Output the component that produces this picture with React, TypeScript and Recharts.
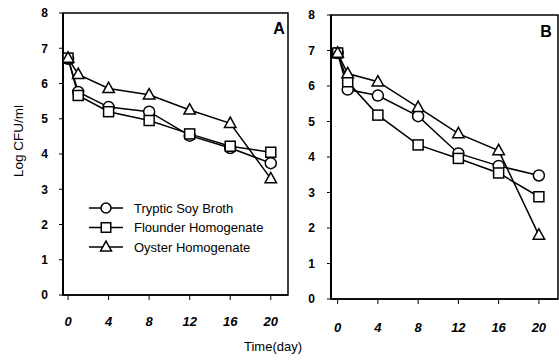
import React from 'react';
import { LineChart, Line, XAxis, YAxis, ReferenceArea, Legend } from 'recharts';

const days = [0, 1, 4, 8, 12, 16, 20];
const xTicks = [0, 4, 8, 12, 16, 20];
const yTicks = [0, 1, 2, 3, 4, 5, 6, 7, 8];
const seriesNames = ['Tryptic Soy Broth', 'Flounder Homogenate', 'Oyster Homogenate'];

const tsbA = [6.7, 5.76, 5.33, 5.2, 4.52, 4.17, 3.74];
const flounderA = [6.72, 5.66, 5.2, 4.95, 4.57, 4.22, 4.05];
const oysterA = [6.72, 6.26, 5.86, 5.68, 5.25, 4.87, 3.3];

const tsbB = [6.93, 5.9, 5.73, 5.15, 4.1, 3.75, 3.48];
const flounderB = [6.93, 6.12, 5.18, 4.34, 3.96, 3.55, 2.88];
const oysterB = [6.93, 6.35, 6.12, 5.4, 4.66, 4.18, 1.8];

const dataA = days.map((d, i) => ({ day: d, tsb: tsbA[i], flounder: flounderA[i], oyster: oysterA[i] }));
const dataB = days.map((d, i) => ({ day: d, tsb: tsbB[i], flounder: flounderB[i], oyster: oysterB[i] }));

const FONT = '"Liberation Sans", Arial, sans-serif';
const SW = 1.5;

function circleMark(cx: number, cy: number, r: number, key?: any) {
  return <circle key={key} cx={cx} cy={cy} r={r} fill="#fff" stroke="#000" strokeWidth={SW} />;
}
function squareMark(cx: number, cy: number, s: number, key?: any) {
  return <rect key={key} x={cx - s / 2} y={cy - s / 2} width={s} height={s} fill="#fff" stroke="#000" strokeWidth={SW} />;
}
function triMark(cx: number, cy: number, s: number, key?: any) {
  const h = s * 0.9;
  const pts = `${cx},${cy - h * 0.6} ${cx - s / 2},${cy + h * 0.4} ${cx + s / 2},${cy + h * 0.4}`;
  return <polygon key={key} points={pts} fill="#fff" stroke="#000" strokeWidth={SW} />;
}

const CircleDot = (p: any) => (p.cx == null ? null : circleMark(p.cx, p.cy, 5.5, p.index));
const SquareDot = (p: any) => (p.cx == null ? null : squareMark(p.cx, p.cy, 10, p.index));
const TriDot = (p: any) => (p.cx == null ? null : triMark(p.cx, p.cy, 11.5, p.index));

const markFns = [
  (x: number, y: number) => circleMark(x, y, 5),
  (x: number, y: number) => squareMark(x, y, 9.5),
  (x: number, y: number) => triMark(x, y, 11),
];

const renderLegend = () => (
  <svg width={190} height={60} style={{ display: 'block' }}>
    {seriesNames.map((n, i) => {
      const y = 10 + i * 19.5;
      return (
        <g key={n}>
          <line x1={3} x2={37} y1={y} y2={y} stroke="#000" strokeWidth={SW} />
          {markFns[i](20, y)}
          <text x={48} y={y} dominantBaseline="central" fontFamily={FONT} fontSize={13} fill="#000">
            {n}
          </text>
        </g>
      );
    })}
  </svg>
);

const axisStyle = { stroke: '#000', strokeWidth: 1.5 };
const yTickStyle = { fill: '#000', fontSize: 12, fontWeight: 'bold', fontFamily: FONT };
const xTickStyle = { fill: '#000', fontSize: 13, fontWeight: 'bold', fontStyle: 'italic', fontFamily: FONT };

export default function App() {
  const domA: [number, number] = [-0.5, 21.7];
  const domB: [number, number] = [-0.66, 21.9];
  return (
    <div style={{ position: 'absolute', left: 0, top: 0, width: 559, height: 361, background: '#fff' }}>
      <div style={{ position: 'absolute', left: 0, top: 0 }}>
        <LineChart width={310} height={361} data={dataA} margin={{ top: 13, right: 22, left: 3, bottom: 0 }}>
          <XAxis
            dataKey="day"
            type="number"
            domain={domA}
            ticks={xTicks}
            allowDataOverflow
            height={66}
            tickSize={5}
            tickMargin={17}
            tick={xTickStyle}
            axisLine={axisStyle}
            tickLine={{ stroke: '#000' }}
            label={{
              content: () => (
                <g>
                  <text x={273} y={351} textAnchor="middle" fontFamily={FONT} fontSize={13} fill="#000">
                    Time(day)
                  </text>
                  <text x={279} y={34} textAnchor="middle" fontFamily={FONT} fontSize={16} fontWeight="bold" fill="#000">
                    A
                  </text>
                </g>
              ),
            }}
          />
          <YAxis
            type="number"
            domain={[0, 8]}
            ticks={yTicks}
            width={60}
            tickSize={4}
            tickMargin={11}
            tick={yTickStyle}
            axisLine={{ stroke: '#000', strokeWidth: 2 }}
            tickLine={{ stroke: '#000' }}
            label={{
              content: () => (
                <text x={18} y={141} transform="rotate(-90 18 141)" textAnchor="middle" dominantBaseline="central" fontFamily={FONT} fontSize={13.5} fill="#000">
                  Log CFU/ml
                </text>
              ),
            }}
          />
          <ReferenceArea x1={domA[0]} x2={domA[1]} y1={0} y2={8} fill="none" fillOpacity={0} stroke="#000" strokeWidth={1.5} />
          <Legend
            layout="vertical"
            align="center"
            verticalAlign="middle"
            wrapperStyle={{ position: 'absolute', left: 86, top: 198, width: 190, height: 60 }}
            content={renderLegend}
          />
          <Line dataKey="tsb" name={seriesNames[0]} stroke="#000" strokeWidth={SW} dot={CircleDot} isAnimationActive={false} />
          <Line dataKey="flounder" name={seriesNames[1]} stroke="#000" strokeWidth={SW} dot={SquareDot} isAnimationActive={false} />
          <Line dataKey="oyster" name={seriesNames[2]} stroke="#000" strokeWidth={SW} dot={TriDot} isAnimationActive={false} />
        </LineChart>
      </div>
      <div style={{ position: 'absolute', left: 300, top: 0 }}>
        <LineChart width={259} height={361} data={dataB} margin={{ top: 15, right: 1, left: 0, bottom: 0 }}>
          <XAxis
            dataKey="day"
            type="number"
            domain={domB}
            ticks={xTicks}
            allowDataOverflow
            height={62}
            tickSize={5}
            tickMargin={19}
            tick={xTickStyle}
            axisLine={axisStyle}
            tickLine={{ stroke: '#000' }}
            label={{
              content: () => (
                <text x={246} y={37} textAnchor="middle" fontFamily={FONT} fontSize={16} fontWeight="bold" fill="#000">
                  B
                </text>
              ),
            }}
          />
          <YAxis
            type="number"
            domain={[0, 8]}
            ticks={yTicks}
            width={31}
            tickSize={4}
            tickMargin={12}
            tick={yTickStyle}
            axisLine={{ stroke: '#000', strokeWidth: 2 }}
            tickLine={{ stroke: '#000' }}
          />
          <ReferenceArea x1={domB[0]} x2={domB[1]} y1={0} y2={8} fill="none" fillOpacity={0} stroke="#000" strokeWidth={1.5} />
          <Line dataKey="tsb" name={seriesNames[0]} stroke="#000" strokeWidth={SW} dot={CircleDot} isAnimationActive={false} />
          <Line dataKey="flounder" name={seriesNames[1]} stroke="#000" strokeWidth={SW} dot={SquareDot} isAnimationActive={false} />
          <Line dataKey="oyster" name={seriesNames[2]} stroke="#000" strokeWidth={SW} dot={TriDot} isAnimationActive={false} />
        </LineChart>
      </div>
    </div>
  );
}
